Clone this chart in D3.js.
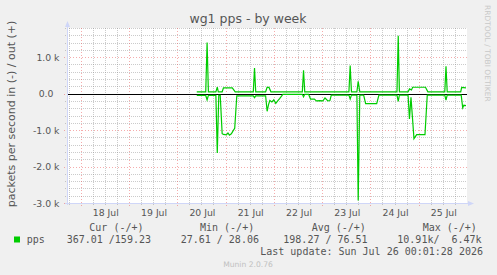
<!DOCTYPE html>
<html><head><meta charset="utf-8">
<script src="https://cdn.jsdelivr.net/npm/d3@7"></script>
<style>
html,body{margin:0;padding:0;background:#f0f0f0;}
svg{display:block;}
text{font-family:"DejaVu Sans",sans-serif;}
.mono{font-family:"DejaVu Sans Mono",monospace;white-space:pre;}
</style></head>
<body>
<script>
// ---- data (days are fractional day-of-July 2026, UTC) ----
const title = "wg1 pps - by week";
const yLabel = "packets per second in (-) / out (+)";
const yTicks = [1000, 0, -1000, -2000, -3000];
const yTickLabels = ["1.0 k", "0.0", "-1.0 k", "-2.0 k", "-3.0 k"];
const xLabelDays = [18, 19, 20, 21, 22, 23, 24, 25];

const outDays = [20.404,20.59,20.618,20.645,20.80,20.829,20.85,20.93,20.957,21.14,21.20,21.575,21.600,21.625,21.83,21.861,21.90,21.94,
  22.59,22.615,22.64,23.555,23.581,23.607,23.72,23.747,23.78,24.55,24.576,24.60,24.78,24.81,24.85,24.875,25.14,25.19,25.54,25.565,25.59,25.87,25.89,25.979];
const outVals = [50,50,1400,50,50,180,50,50,160,160,50,50,700,50,50,170,170,50,
  50,640,50,50,770,50,50,340,50,50,1590,50,50,130,100,175,175,50,50,750,50,50,170,160];

const inDays = [20.404,20.59,20.618,20.645,20.80,20.829,20.86,20.89,20.93,20.957,21.02,21.05,21.08,21.12,21.165,21.19,21.233,
  21.575,21.600,21.625,21.83,21.861,21.89,21.917,21.96,22.00,22.04,22.08,22.12,22.187,
  22.59,22.615,22.64,22.72,22.76,22.84,22.88,22.95,23.016,23.06,23.12,23.161,23.19,
  23.555,23.581,23.607,23.72,23.747,23.78,23.86,23.901,24.13,24.176,
  24.55,24.576,24.60,24.78,24.808,24.84,24.902,24.958,25.13,25.177,
  25.54,25.565,25.59,25.88,25.911,25.935,25.979];
const inVals = [50,50,170,50,50,1625,50,50,1100,1120,1130,1080,1140,1100,1000,950,60,
  60,110,60,60,485,300,190,230,170,270,200,140,20,
  20,90,20,20,150,150,200,190,200,120,200,190,40,
  40,150,40,40,2930,40,40,275,275,40,
  40,210,40,40,695,100,1235,1125,1125,40,
  40,180,40,40,390,320,330];

const legendHeaders = ["Cur (-/+)", "Min (-/+)", "Avg (-/+)", "Max (-/+)"];
const legendValues = ["367.01 /159.23", "27.61 / 28.06", "198.27 / 76.51", "10.91k/  6.47k"];
const seriesName = "pps";
const lastUpdate = "Last update: Sun Jul 26 00:01:28 2026";
const watermark = "Munin 2.0.76";
const sideText = "RRDTOOL / TOBI OETIKER";

// ---- layout ----
const W = 497, H = 275;
const L = 67, R = 467, T = 28, B = 203;
const DAY = 86400000;
const toDate = d => new Date(Date.UTC(2026, 6, 1) + (d - 1) * DAY);
const endT = toDate(26), startT = new Date(+endT - 8.283 * DAY);

const x = d3.scaleUtc().domain([startT, endT]).range([L, R]);
const y = d3.scaleLinear().domain([-3000, 1800]).range([B, T]);

const svg = d3.select("body").append("svg").attr("width", W).attr("height", H);
svg.append("rect").attr("width", W).attr("height", H).attr("fill", "#f0f0f0");
svg.append("rect").attr("x", L).attr("y", T).attr("width", R - L).attr("height", B - T).attr("fill", "#ffffff");

// grid
const g = svg.append("g").attr("shape-rendering", "crispEdges");
const minorC = "rgba(140,140,140,0.45)";
const majorC = "rgba(235,90,90,0.5)";
const minorX = d3.utcHour.every(6).range(startT, endT).filter(d => d.getUTCHours() !== 0);
const majorX = d3.utcDay.range(startT, endT);
g.selectAll(".mx").data(minorX).join("line")
  .attr("x1", d => Math.round(x(d)) + 0.5).attr("x2", d => Math.round(x(d)) + 0.5)
  .attr("y1", T).attr("y2", B + 2)
  .attr("stroke", minorC).attr("stroke-dasharray", "1,1");
const minorY = d3.range(-3000, 1801, 200).filter(v => v % 1000 !== 0);
g.selectAll(".my").data(minorY).join("line")
  .attr("x1", L - 2).attr("x2", R)
  .attr("y1", d => Math.round(y(d)) + 0.5).attr("y2", d => Math.round(y(d)) + 0.5)
  .attr("stroke", minorC).attr("stroke-dasharray", "1,1");
g.selectAll(".Mx").data(majorX).join("line")
  .attr("x1", d => Math.round(x(d)) + 0.5).attr("x2", d => Math.round(x(d)) + 0.5)
  .attr("y1", T).attr("y2", B + 3)
  .attr("stroke", majorC).attr("stroke-dasharray", "1,2");
g.selectAll(".My").data(yTicks).join("line")
  .attr("x1", L - 3).attr("x2", R)
  .attr("y1", d => Math.round(y(d)) + 0.5).attr("y2", d => Math.round(y(d)) + 0.5)
  .attr("stroke", majorC).attr("stroke-dasharray", "1,2");

// zero line
svg.append("line").attr("x1", L).attr("x2", R)
  .attr("y1", Math.round(y(0)) + 0.5).attr("y2", Math.round(y(0)) + 0.5)
  .attr("stroke", "#000").attr("stroke-width", 1);

// series
const line = d3.line().x(d => x(toDate(d[0]))).y(d => y(d[1]));
svg.append("path").datum(outDays.map((d, i) => [d, outVals[i]]))
  .attr("d", line).attr("fill", "none").attr("stroke", "#00cc00").attr("stroke-width", 1.2);
svg.append("path").datum(inDays.map((d, i) => [d, -inVals[i]]))
  .attr("d", line).attr("fill", "none").attr("stroke", "#00cc00").attr("stroke-width", 1.2);

// axes with arrows
const axisC = "#CFD6F8";
svg.append("line").attr("x1", L + 0.5).attr("x2", L + 0.5).attr("y1", B + 2).attr("y2", T - 3).attr("stroke", axisC);
svg.append("path").attr("d", `M${L - 2},${T - 1}L${L + 3},${T - 1}L${L + 0.5},${T - 7}Z`).attr("fill", axisC);
svg.append("line").attr("x1", L - 2).attr("x2", R + 3).attr("y1", B + 0.5).attr("y2", B + 0.5).attr("stroke", axisC);
svg.append("path").attr("d", `M${R + 1},${B - 2}L${R + 1},${B + 3}L${R + 7},${B + 0.5}Z`).attr("fill", axisC);

// y tick labels
svg.selectAll(".yl").data(yTicks).join("text")
  .attr("x", (d, i) => yTickLabels[i].endsWith("k") ? 59.5 : 53.5)
  .attr("y", d => y(d) + 3.5)
  .attr("text-anchor", "end").attr("font-size", "9.3px").attr("fill", "#555")
  .text((d, i) => yTickLabels[i]);

// x tick labels (noon of each day)
const fmt = d3.utcFormat("%d %b");
svg.selectAll(".xl").data(xLabelDays).join("text")
  .attr("x", d => x(toDate(d + 0.5)) + 1)
  .attr("y", 216)
  .attr("text-anchor", "middle").attr("font-size", "9.3px").attr("fill", "#555")
  .text(d => fmt(toDate(d)));

// title
svg.append("text").attr("x", 248).attr("y", 23).attr("text-anchor", "middle")
  .attr("font-size", "12.5px").attr("fill", "#555").text(title);

// y label
svg.append("text").attr("transform", "translate(15,114) rotate(-90)")
  .attr("text-anchor", "middle").attr("font-size", "11px").attr("fill", "#555").text(yLabel);

// side text
svg.append("text").attr("transform", "translate(485,5) rotate(90)")
  .attr("font-size", "7.5px").attr("fill", "#c8c8c8").text(sideText);

// legend
const hdrX = [89.3, 200, 311.7, 422.7];
const valX = [66.7, 180.7, 283.3, 397.3];
svg.selectAll(".lh").data(legendHeaders).join("text").attr("class", "mono")
  .attr("x", (d, i) => hdrX[i]).attr("y", 230.5).attr("font-size", "10px").attr("fill", "#555").text(d => d);
svg.selectAll(".lv").data(legendValues).join("text").attr("class", "mono")
  .attr("x", (d, i) => valX[i]).attr("y", 243).attr("font-size", "10px").attr("fill", "#555").text(d => d);
svg.append("rect").attr("x", 14).attr("y", 236.5).attr("width", 6).attr("height", 6).attr("fill", "#00cc00");
svg.append("text").attr("class", "mono").attr("x", 26.7).attr("y", 243).attr("font-size", "10px").attr("fill", "#555").text(seriesName);
svg.append("text").attr("class", "mono").attr("x", 483).attr("y", 255).attr("text-anchor", "end")
  .attr("font-size", "10px").attr("fill", "#555").text(lastUpdate);
svg.append("text").attr("x", 248).attr("y", 266.5).attr("text-anchor", "middle")
  .attr("font-size", "7.6px").attr("fill", "#c0c0c0").text(watermark);
</script>
</body></html>
